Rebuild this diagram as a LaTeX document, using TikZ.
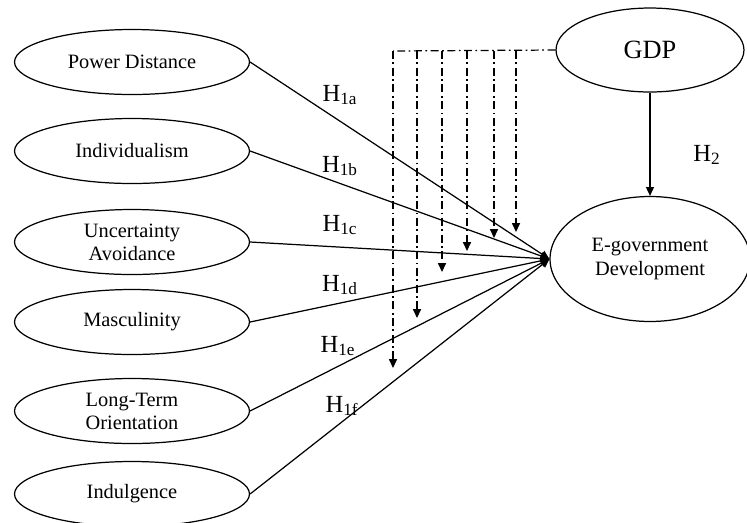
\documentclass[tikz,border=0pt]{standalone}
\usepackage{fontspec}
\setmainfont{Liberation Serif}
\usetikzlibrary{arrows.meta, calc, shapes.geometric}

\begin{document}
\begin{tikzpicture}[x=0.02cm, y=-0.02cm,
        dim/.style={draw, ellipse, line width=0.7pt, inner sep=0pt, minimum width=4.7cm,
                    minimum height=1.3cm, align=center, font=\fontsize{11.6}{13}\selectfont},
        hyp/.style={font=\fontsize{14}{16}\selectfont},
        path/.style={-{Triangle[length=5pt,width=4.5pt]}, line width=0.7pt},
        modline/.style={line width=0.7pt, dash pattern=on 4.5pt off 2pt on 1pt off 2pt},
        mod/.style={modline, -{Triangle[length=5pt,width=4.5pt]}}
      ]
      \useasboundingbox (0,0) rectangle (747,522);

      % Kulturdimensionen (links)
      \node[dim] (pd)  at (132,62)  {Power Distance};
      \node[dim] (ind) at (132,151) {Individualism};
      \node[dim] (ua)  at (132,242) {Uncertainty\\Avoidance};
      \node[dim] (mas) at (132,322) {Masculinity};
      \node[dim] (lto) at (132,411) {Long-Term\\Orientation};
      \node[dim] (idg) at (132,494) {Indulgence};

      % GDP und Zielgroesse
      \node[dim, minimum width=3.76cm, minimum height=1.68cm,
            font=\fontsize{15}{17}\selectfont] (gdp) at (650,50) {GDP};
      \node[dim, minimum width=4cm, minimum height=2.5cm,
            font=\fontsize{11.6}{13.8}\selectfont] (eg) at (650,259) {E-government\\Development};

      % Pfade H1
      \foreach \n in {pd, ind, ua, mas, lto, idg} {
        \draw[path] (\n.east) -- (eg.west);
      }
      \foreach \s/\x/\y in {1a/340/95, 1b/340/166, 1c/340/225, 1d/340/285, 1e/338/346, 1f/342/406} {
        \node[hyp] (h\s) at (\x,\y) {H\textsubscript{\s}};
      }

      % H2
      \draw[path] (gdp.south) -- (eg.north);
      \node[hyp] (h2) at (707,155) {H\textsubscript{2}};

      % Moderation durch GDP
      \coordinate (mc) at (393,51);
      \draw[modline] (gdp.west) -- (mc);
      \foreach \x/\y in {393/368, 417/318, 442/272, 467/251, 494/238, 516/232} {
        \coordinate (m\x) at (\x,\y);
        \draw[mod] (mc -| m\x) -- (m\x);
      }
    \end{tikzpicture}
\end{document}
